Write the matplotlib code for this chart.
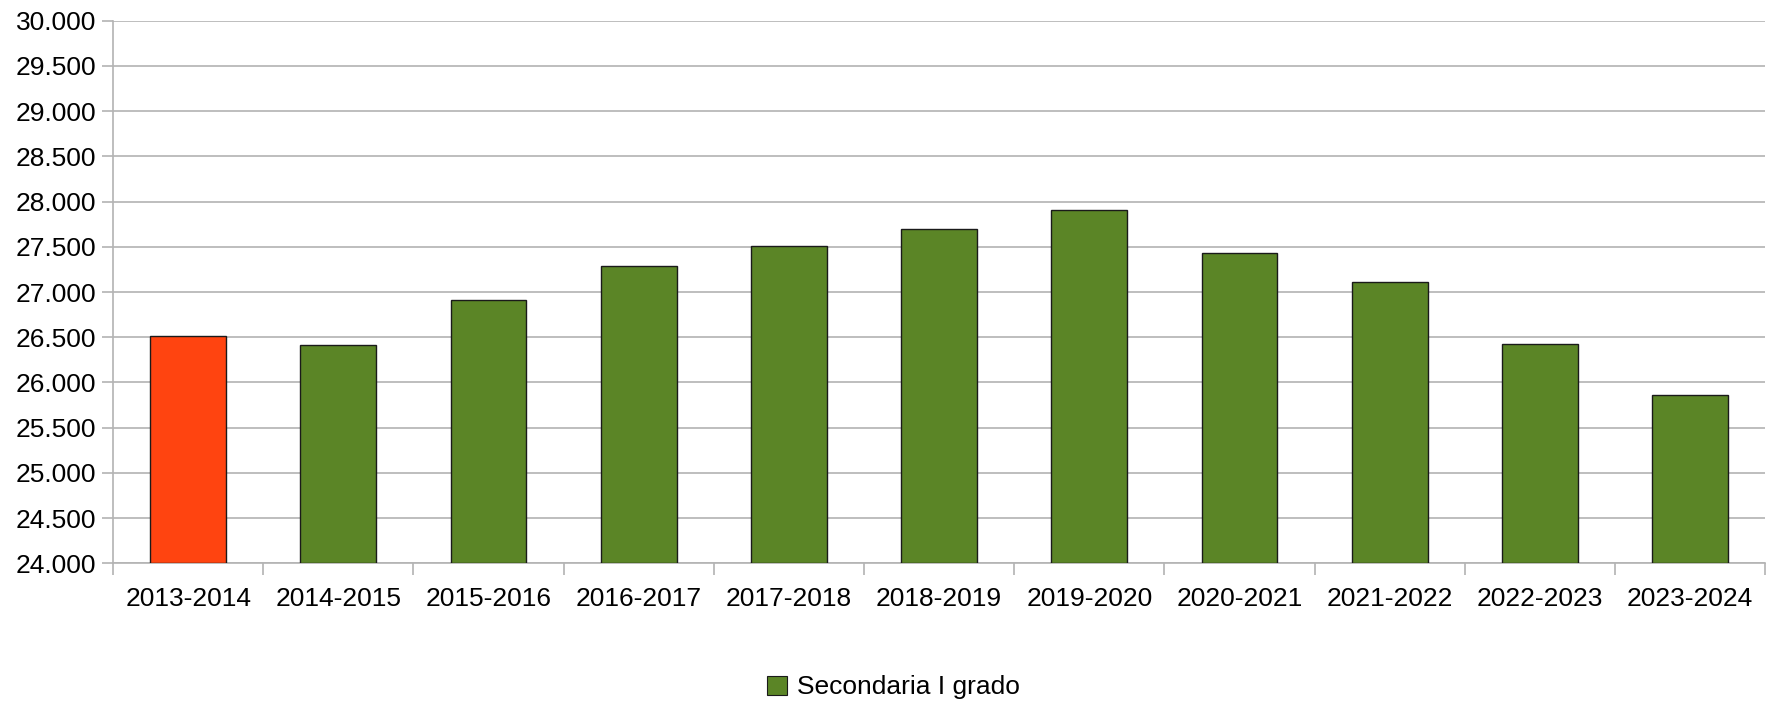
import numpy as np
import matplotlib.pyplot as plt
from matplotlib.ticker import FuncFormatter, FixedLocator
from matplotlib.patches import Patch

years = ["2013-2014", "2014-2015", "2015-2016", "2016-2017", "2017-2018", "2018-2019",
         "2019-2020", "2020-2021", "2021-2022", "2022-2023", "2023-2024"]
students = [26510, 26410, 26914, 27287, 27508, 27692, 27909, 27427, 27106, 26424, 25863]
green = "#5b8526"
highlight = "#ff4410"

plt.rcParams['font.family'] = ['Liberation Sans', 'DejaVu Sans']

fig = plt.figure(figsize=(17.69, 7.05), dpi=100)
ax = fig.add_axes([0.0639, 0.201, 0.934, 0.7696])

x = np.arange(len(years))
colors = [highlight] + [green] * (len(years) - 1)
ax.bar(x, np.array(students) - 24000, bottom=24000, width=0.505, color=colors,
       edgecolor="#1a1a1a", linewidth=1.0, zorder=3)

ax.set_xlim(-0.5, len(years) - 0.5)
ax.set_ylim(24000, 30000)
ax.set_yticks(np.arange(24000, 30001, 500))
ax.yaxis.set_major_formatter(FuncFormatter(lambda v, p: f"{v:,.0f}".replace(",", ".")))
ax.grid(axis="y", color="#b3b3b3", linewidth=1.2, zorder=0)

ax.set_xticks(x)
ax.set_xticklabels(years)
ax.xaxis.set_minor_locator(FixedLocator(np.arange(-0.5, len(years), 1.0)))
ax.tick_params(axis="x", which="major", length=0, pad=17, labelsize=19)
ax.tick_params(axis="x", which="minor", length=8.6, color="#b3b3b3", width=1.2)
ax.tick_params(axis="y", length=8, color="#b3b3b3", width=1.2, labelsize=19, pad=4)

for s in ["top", "right"]:
    ax.spines[s].set_visible(False)
for s in ["left", "bottom"]:
    ax.spines[s].set_color("#b3b3b3")
    ax.spines[s].set_linewidth(1.2)

handle = Patch(facecolor=green, edgecolor="#1a1a1a", linewidth=0.8)
fig.legend([handle], ["Secondaria I grado"], loc="center", bbox_to_anchor=(0.505, 0.025),
           frameon=False, fontsize=19, handlelength=0.75, handleheight=0.75, handletextpad=0.4)

fig.savefig("out.png", dpi=100)
